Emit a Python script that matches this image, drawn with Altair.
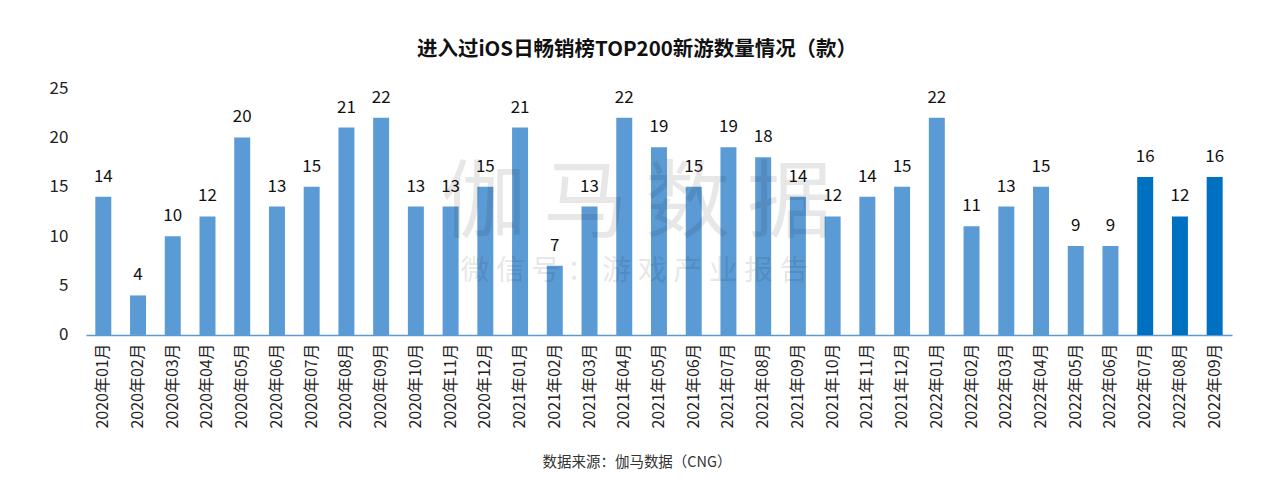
import altair as alt
import pandas as pd

months = [f"2020年{m:02d}月" for m in range(1, 13)] + \
         [f"2021年{m:02d}月" for m in range(1, 13)] + \
         [f"2022年{m:02d}月" for m in range(1, 10)]
values = [14, 4, 10, 12, 20, 13, 15, 21, 22, 13, 13, 15,
          21, 7, 13, 22, 19, 15, 19, 18, 14, 12, 14, 15,
          22, 11, 13, 15, 9, 9, 16, 12, 16]
highlight = ["2022年07月", "2022年08月", "2022年09月"]

df = pd.DataFrame({"month": months, "value": values})
df["grp"] = ["hl" if m in highlight else "base" for m in months]

FONT = "Noto Sans CJK SC"
W, H = 1147, 247

base = alt.Chart(df).encode(
    x=alt.X("month:N", sort=months,
            scale=alt.Scale(paddingInner=0.54, paddingOuter=0.27),
            axis=alt.Axis(title="数据来源：伽马数据（CNG）", labelAngle=-90, labelFontSize=16,
                          labelColor="#222", labelFont=FONT, labelPadding=8, ticks=False,
                          labelLimit=200,
                          domainColor="#5B9BD5", domainWidth=1.5,
                          titleFont=FONT, titleFontSize=14.5, titleFontWeight="normal",
                          titleColor="#333", titleX=551, titleY=128, titleAlign="center",
                          titleBaseline="middle")),
    y=alt.Y("value:Q", scale=alt.Scale(domain=[0, 25], nice=False),
            axis=alt.Axis(title=None, values=[0, 5, 10, 15, 20, 25], grid=False, domain=False,
                          ticks=False, labelFontSize=17, labelColor="#222", labelFont=FONT,
                          labelPadding=18)),
)

bars = base.mark_bar().encode(
    color=alt.Color("grp:N", scale=alt.Scale(domain=["base", "hl"], range=["#5B9BD5", "#0070C0"]),
                    legend=None)
)
labels = base.mark_text(dy=-11, fontSize=17, font=FONT, color="#111", baseline="bottom").encode(
    text="value:Q")

wm1 = alt.Chart(pd.DataFrame({"t": ["伽\u2009马\u2009数\u2009据"]})).mark_text(
    fontSize=85, font=FONT, color="#000", opacity=0.09, baseline="middle", align="center"
).encode(text="t:N", x=alt.value(551), y=alt.value(117))
wm2 = alt.Chart(pd.DataFrame({"t": ["微 信 号 ： 游 戏 产 业 报 告"]})).mark_text(
    fontSize=29, font=FONT, color="#000", opacity=0.09, baseline="middle", align="center"
).encode(text="t:N", x=alt.value(549), y=alt.value(183))

chart = alt.layer(bars, labels, wm1, wm2).properties(
    width=W, height=H,
    title=alt.TitleParams("进入过iOS日畅销榜TOP200新游数量情况（款）", font=FONT, fontSize=20.5,
                          fontWeight="bold", color="#111", anchor="middle", offset=19, dx=-22),
    autosize=alt.AutoSizeParams(type="none"),
    padding={"left": 78, "top": 80, "right": 40, "bottom": 140},
    background="white",
).configure_view(stroke=None)

chart.save("out.html", embed_options={"renderer": "svg", "actions": False})
